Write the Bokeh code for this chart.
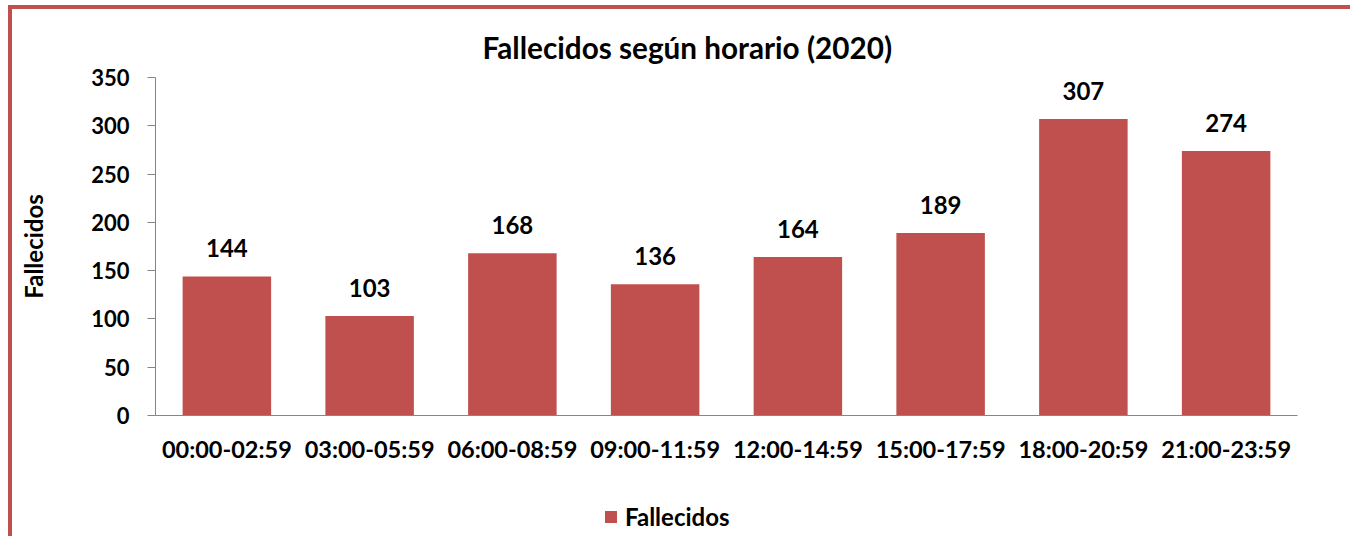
from bokeh.plotting import figure
from bokeh.layouts import column
from bokeh.models import ColumnDataSource, Legend, LegendItem, Title, FactorRange, Range1d
from bokeh.core.properties import value
from bokeh.embed import file_html
from bokeh.resources import INLINE

categories = ["00:00-02:59", "03:00-05:59", "06:00-08:59", "09:00-11:59",
              "12:00-14:59", "15:00-17:59", "18:00-20:59", "21:00-23:59"]
fallecidos = [144, 103, 168, 136, 164, 189, 307, 274]
y_ticks = [0, 50, 100, 150, 200, 250, 300, 350]
title_text = "Fallecidos según horario (2020)"
series_name = "Fallecidos"

FONT = "Lato"
BAR = "#C0504D"
AXIS = "#868686"

src = ColumnDataSource(dict(cat=categories, val=fallecidos,
                            lab=[str(v) for v in fallecidos]))

# main chart
p = figure(width=1338, height=471, x_range=categories, y_range=(0, 350),
           output_backend="svg", toolbar_location=None, tools="")
p.min_border_left = 143
p.min_border_right = 53
p.min_border_top = 68
p.min_border_bottom = 65
p.outline_line_color = None
p.background_fill_color = "white"
p.border_fill_color = "white"
p.xgrid.grid_line_color = None
p.ygrid.grid_line_color = None

t = Title(text=title_text, align="left", offset=327,
          text_font=FONT, text_font_size="29.7px", text_font_style="bold",
          text_color="black", standoff=26)
p.add_layout(t, "above")

r = p.vbar(x="cat", top="val", width=0.62, source=src, fill_color=BAR,
           line_color=None)
p.text(x="cat", y="val", text="lab", source=src, text_align="center",
       text_baseline="alphabetic", y_offset=-28, text_font=value(FONT),
       text_font_size="24px", text_font_style="bold", text_color="black")

p.x_range.range_padding = 0
p.yaxis.ticker = y_ticks
p.yaxis.axis_label = series_name
p.yaxis.axis_label_text_font = FONT
p.yaxis.axis_label_text_font_size = "24px"
p.yaxis.axis_label_text_font_style = "bold"
p.yaxis.axis_label_text_color = "black"
p.yaxis.axis_label_standoff = 40
for ax in (p.xaxis, p.yaxis):
    ax.axis_line_color = AXIS
    ax.major_tick_line_color = AXIS
    ax.minor_tick_line_color = None
    ax.major_label_text_font = FONT
    ax.major_label_text_font_style = "bold"
    ax.major_label_text_color = "black"
p.yaxis.major_tick_out = 8
p.yaxis.major_tick_in = 0
p.yaxis.major_label_text_font_size = "22px"
p.yaxis.major_label_standoff = 18
p.xaxis.major_tick_line_color = None
p.xaxis.major_label_text_font_size = "23.5px"
p.xaxis.major_label_standoff = 13

# legend strip below the chart
p2 = figure(width=1338, height=56, x_range=FactorRange(*categories),
            y_range=Range1d(1000, 2000), output_backend="svg",
            toolbar_location=None, tools="",
            x_axis_location=None, y_axis_location=None)
p2.min_border_left = 0
p2.min_border_right = 0
p2.min_border_top = 0
p2.min_border_bottom = 0
p2.outline_line_color = None
p2.background_fill_color = "white"
p2.border_fill_color = "white"
p2.xgrid.grid_line_color = None
p2.ygrid.grid_line_color = None
r2 = p2.vbar(x="cat", top="val", width=0.62, source=src, fill_color=BAR,
             line_color=None)
legend = Legend(items=[LegendItem(label=series_name, renderers=[r2])],
                location=(448, 5), orientation="horizontal",
                label_text_font=FONT, label_text_font_size="24px",
                label_text_font_style="bold", label_text_color="black",
                glyph_width=15, glyph_height=15, label_standoff=7,
                border_line_color=None, background_fill_alpha=0,
                padding=0, margin=0, spacing=0)
p2.add_layout(legend)

layout = column(p, p2, spacing=0)
layout.styles = {"border-top": "4px solid #C0504D", "border-left": "4px solid #C0504D",
                 "margin-left": "8px", "margin-top": "5px"}

open("out.html", "w").write(file_html(layout, INLINE))
